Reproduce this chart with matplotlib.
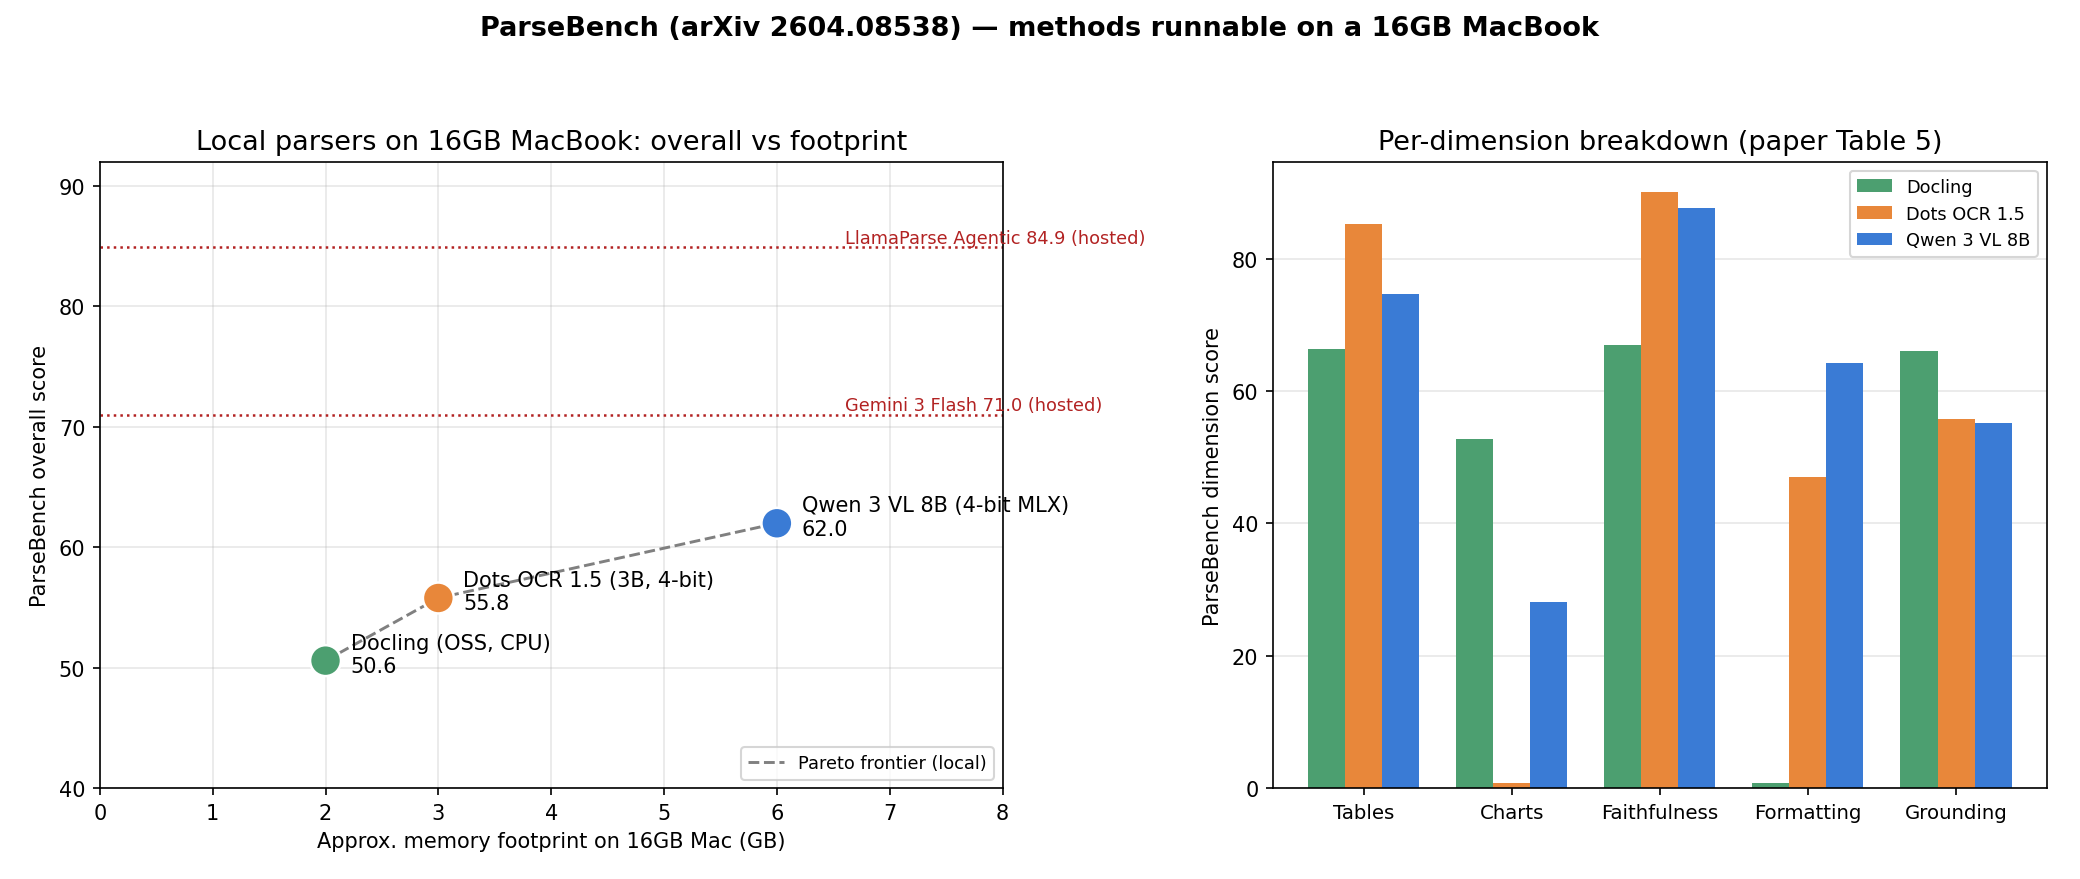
import matplotlib
matplotlib.use("Agg")
import matplotlib.pyplot as plt
import numpy as np

# local parsers: memory footprint vs overall score
methods = ["Docling (OSS, CPU)", "Dots OCR 1.5 (3B, 4-bit)", "Qwen 3 VL 8B (4-bit MLX)"]
short_names = ["Docling", "Dots OCR 1.5", "Qwen 3 VL 8B"]
memory_gb = [2, 3, 6]
overall = [50.6, 55.8, 62.0]
colors = ["#4c9f70", "#e8873a", "#3a7bd5"]

hosted_names = ["LlamaParse Agentic", "Gemini 3 Flash"]
hosted_scores = [84.9, 71.0]

# per-dimension breakdown (paper Table 5)
dimensions = ["Tables", "Charts", "Faithfulness", "Formatting", "Grounding"]
docling_dim = [66.3, 52.7, 67.0, 0.8, 66.1]
dots_dim = [85.2, 0.8, 90.1, 47.0, 55.8]
qwen_dim = [74.7, 28.1, 87.6, 64.3, 55.2]

fig = plt.figure(figsize=(2080 / 150, 880 / 150), dpi=150)
ax1 = fig.add_axes([0.048, 0.103, 0.434, 0.712])
ax2 = fig.add_axes([0.612, 0.103, 0.372, 0.712])

fig.suptitle("ParseBench (arXiv 2604.08538) \u2014 methods runnable on a 16GB MacBook",
             fontsize=13, fontweight="bold", y=0.982)

# left panel
ax1.plot(memory_gb, overall, linestyle="--", color="gray", lw=1.4, zorder=2,
         label="Pareto frontier (local)")
ax1.scatter(memory_gb, overall, s=220, c=colors, edgecolors="white", linewidths=1.2, zorder=3)
for x, y, name in zip(memory_gb, overall, methods):
    ax1.annotate(f"{name}\n{y:.1f}", (x, y), xytext=(12, 3), textcoords="offset points",
                 fontsize=10, va="center")
for name, score in zip(hosted_names, hosted_scores):
    ax1.axhline(score, color="firebrick", linestyle=":", lw=1.2)
    ax1.text(6.6, score + 0.4, f"{name} {score:.1f} (hosted)", color="firebrick",
             fontsize=8.5)
ax1.set_xlim(0, 8)
ax1.set_ylim(40, 92)
ax1.set_xlabel("Approx. memory footprint on 16GB Mac (GB)", fontsize=10)
ax1.set_ylabel("ParseBench overall score", fontsize=10)
ax1.set_title("Local parsers on 16GB MacBook: overall vs footprint", fontsize=13)
ax1.grid(True, alpha=0.3)
ax1.legend(loc="lower right", fontsize=8.5)

# right panel
x = np.arange(len(dimensions))
w = 0.25
for i, (vals, name, c) in enumerate(zip([docling_dim, dots_dim, qwen_dim], short_names, colors)):
    ax2.bar(x + (i - 1) * w, vals, w, color=c, label=name)
ax2.set_xticks(x)
ax2.set_xticklabels(dimensions, fontsize=9.5)
ax2.set_ylabel("ParseBench dimension score", fontsize=10)
ax2.set_title("Per-dimension breakdown (paper Table 5)", fontsize=13)
ax2.grid(True, axis="y", alpha=0.3)
ax2.set_axisbelow(True)
ax2.legend(loc="upper right", fontsize=8.5)

fig.savefig("out.png", dpi=150)
